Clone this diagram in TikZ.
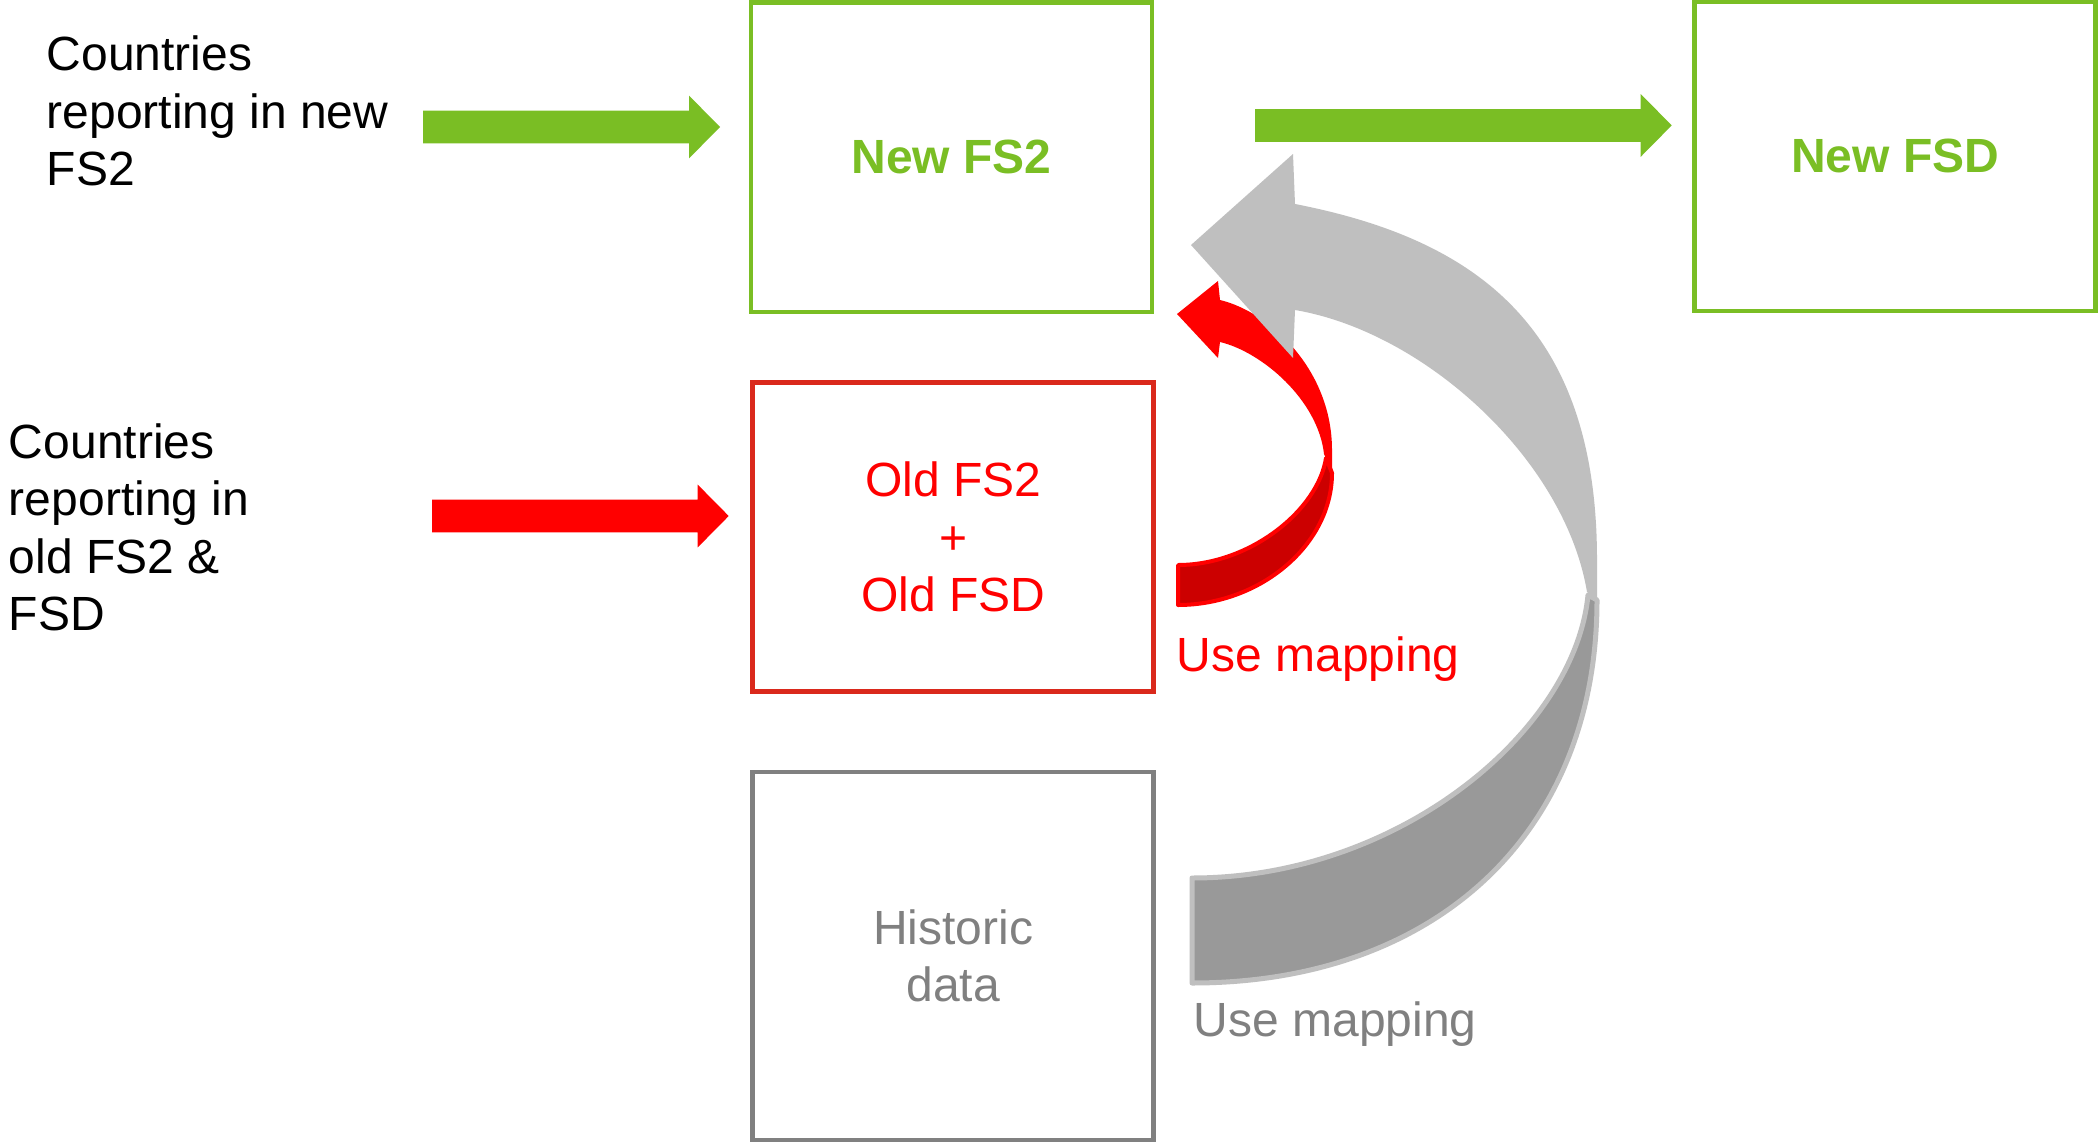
\documentclass[tikz,border=0pt]{standalone}
\usepackage{fontspec}
\setmainfont{Liberation Sans}
\usetikzlibrary{calc}

\definecolor{leaf}{RGB}{122,190,36}
\definecolor{boxred}{RGB}{218,41,28}
\definecolor{brightred}{RGB}{255,0,0}
\definecolor{deepred}{RGB}{204,0,0}
\definecolor{midgray}{RGB}{128,128,128}
\definecolor{shadegray}{RGB}{191,191,191}
\definecolor{darkband}{RGB}{153,153,153}

\tikzset{
  basefont/.style={font=\fontsize{48}{57.5}\selectfont},
  stage/.style={draw, line width=4.5pt, inner sep=0pt, align=center, basefont},
  sidetext/.style={basefont, inner sep=0pt, align=left, anchor=north west},
  maplabel/.style={basefont, inner sep=0pt, anchor=base west},
  blockarrow/.style={to path={let \p1=(\tikztostart), \p2=(\tikztotarget) in
    (\x1,\y1+16.4pt) -- (\x2-31pt,\y2+16.4pt) -- (\x2-31pt,\y2+31.4pt) -- (\x2,\y2)
    -- (\x2-31pt,\y2-31.4pt) -- (\x2-31pt,\y2-16.4pt) -- (\x1,\y1-16.4pt) -- cycle}}
}

\begin{document}
\begin{tikzpicture}[x=1pt,y=-1pt]
\useasboundingbox (0,0) rectangle (2098,1143);
\fill[white] (0,0) rectangle (2098,1143);

% boxes
\node[stage, draw=leaf, text=leaf, minimum width=401.3pt, minimum height=309.5pt,
      font=\fontsize{48}{57.5}\selectfont\bfseries] (newfs2) at (951.4,157.3) {New FS2};
\node[stage, draw=leaf, text=leaf, minimum width=401.2pt, minimum height=308.7pt,
      font=\fontsize{48}{57.5}\selectfont\bfseries] (newfsd) at (1895.1,156.4) {New FSD};
\node[stage, draw=boxred, text=brightred, minimum width=401pt, minimum height=309pt]
      (oldbox) at (953.2,537.2) {Old FS2\\+\\Old FSD};
\node[stage, draw=midgray, text=midgray, minimum width=401pt, minimum height=368pt]
      (hist) at (953.2,956) {Historic\\data};

% source texts
\node[sidetext] (srcnew) at (46.5,35.6) {Countries\\reporting in new\\FS2};
\node[sidetext] (srcold) at (8.8,423.1) {Countries\\reporting in\\old FS2 \&\\FSD};

% straight block arrows
\coordinate (in1tail) at (423,127);
\coordinate (in1tip) at (720,127);
\coordinate (in2tail) at (432,516);
\coordinate (in2tip) at (728.7,516);
\coordinate (outtail) at (1255,125.4);
\coordinate (outtip) at (1671.7,125.4);
\fill[leaf] (in1tail) to[blockarrow] (in1tip);
\fill[brightred] (in2tail) to[blockarrow] (in2tip);
\fill[leaf] (outtail) to[blockarrow] (outtip);

% red curved arrow: underside band
\filldraw[fill=deepred, draw=brightred, line width=4pt, line join=round]
  (1326,458) .. controls (1318,510) and (1250,565) .. (1178,565)
  -- (1178,605) .. controls (1260,605) and (1332,545) .. (1332,473)
  -- cycle;
% red curved arrow: top band and head
\fill[brightred] (1177,314) -- (1218,281) -- (1220,300)
  .. controls (1270,312) and (1332,370) .. (1332,450) -- (1332,472)
  -- (1324,454) .. controls (1318,400) and (1262,352) .. (1220,342)
  -- (1218,358) -- cycle;

% grey curved arrow: underside band
\filldraw[fill=darkband, draw=shadegray, line width=5pt, line join=round]
  (1588,595) .. controls (1575,730) and (1400,878) .. (1192,878)
  -- (1192,983) .. controls (1435,983) and (1597,834) .. (1597,600) -- cycle;
% grey curved arrow: top band and head
\fill[shadegray] (1191,245) -- (1293,154) -- (1295,204)
  .. controls (1480,240) and (1597,330) .. (1597,560) -- (1597,602)
  -- (1587,592) .. controls (1565,460) and (1425,332) .. (1295,310)
  -- (1293,358) -- cycle;

% mapping labels
\node[maplabel, text=brightred] (mapred) at (1176.5,671.7) {Use mapping};
\node[maplabel, text=midgray] (mapgray) at (1193.5,1036.7) {Use mapping};
\end{tikzpicture}
\end{document}
